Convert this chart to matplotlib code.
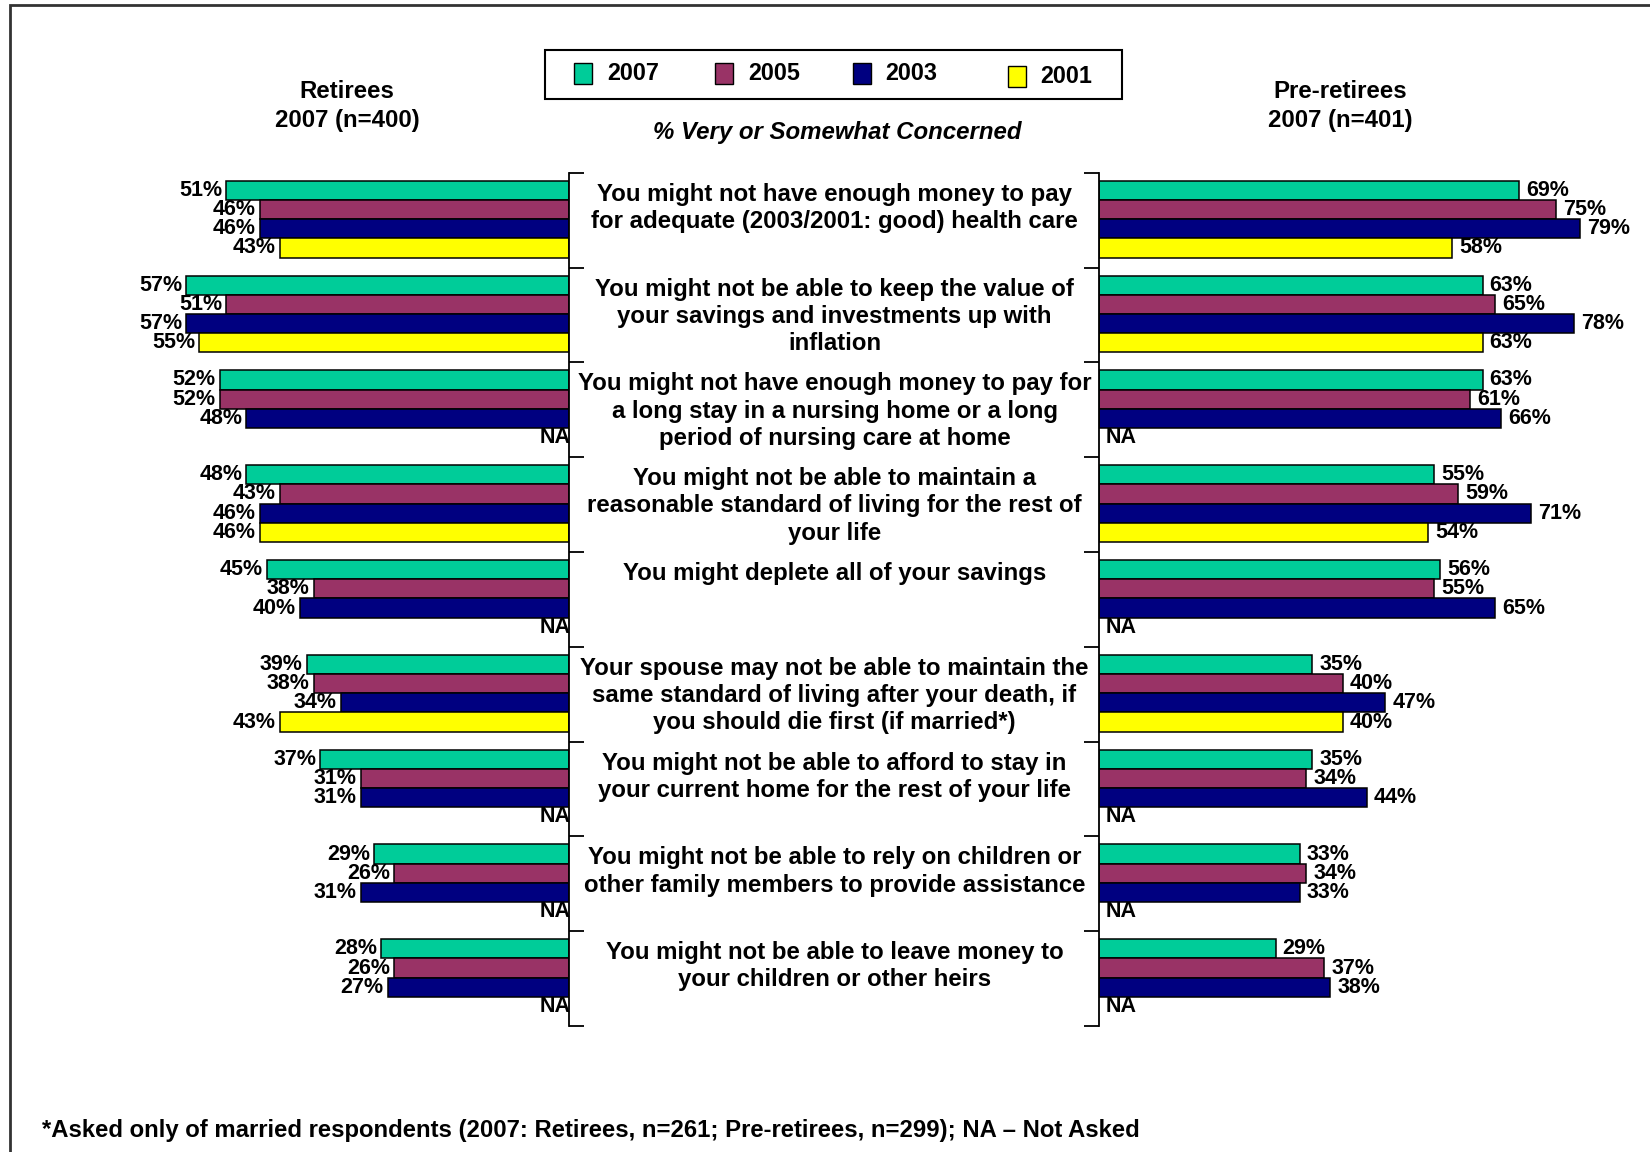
import matplotlib
matplotlib.use('Agg')
import matplotlib.pyplot as plt
import matplotlib.transforms as mtransforms
from matplotlib.patches import Rectangle
import numpy as np

plt.rcParams['font.family'] = ['Liberation Sans', 'DejaVu Sans']
plt.rcParams['font.weight'] = 'bold'

# Survey items (one per row, top to bottom)
items = [
    'You might not have enough money to pay\nfor adequate (2003/2001: good) health care',
    'You might not be able to keep the value of\nyour savings and investments up with\ninflation',
    'You might not have enough money to pay for\na long stay in a nursing home or a long\nperiod of nursing care at home',
    'You might not be able to maintain a\nreasonable standard of living for the rest of\nyour life',
    'You might deplete all of your savings',
    'Your spouse may not be able to maintain the\nsame standard of living after your death, if\nyou should die first (if married*)',
    'You might not be able to afford to stay in\nyour current home for the rest of your life',
    'You might not be able to rely on children or\nother family members to provide assistance',
    'You might not be able to leave money to\nyour children or other heirs',
]
years = ['2007', '2005', '2003', '2001']
colors = ['#00CC99', '#993366', '#000080', '#FFFF00']

NA = np.nan
# % very or somewhat concerned, columns = 2007, 2005, 2003, 2001
retirees = np.array([
    [51, 46, 46, 43],
    [57, 51, 57, 55],
    [52, 52, 48, NA],
    [48, 43, 46, 46],
    [45, 38, 40, NA],
    [39, 38, 34, 43],
    [37, 31, 31, NA],
    [29, 26, 31, NA],
    [28, 26, 27, NA],
])
pre_retirees = np.array([
    [69, 75, 79, 58],
    [63, 65, 78, 63],
    [63, 61, 66, NA],
    [55, 59, 71, 54],
    [56, 55, 65, NA],
    [35, 40, 47, 40],
    [35, 34, 44, NA],
    [33, 34, 33, NA],
    [29, 37, 38, NA],
])

W, H = 1650, 1152
fig = plt.figure(figsize=(W / 100, H / 100), dpi=100)


def rect(x0, y0, x1, y1):
    # pixel box (top-left origin) -> figure fraction rect
    return [x0 / W, 1 - y1 / H, (x1 - x0) / W, (y1 - y0) / H]


# outer frame (runs off the right and bottom edges)
fig.patches.append(Rectangle((10 / W, -0.1), 1.2, 1 - 5 / H + 0.1, transform=fig.transFigure,
                             fill=False, edgecolor='#333333', linewidth=2))

top, bot = 172.7, 1026
axL = fig.add_axes(rect(150, top, 569, bot))
axR = fig.add_axes(rect(1099, top, 1620, bot))
axL.set_xlim(419 / 6.72, 0)
axR.set_xlim(0, 521 / 6.09)

n = len(items)
ypos = np.arange(n)
bh = 0.2025
for ax in (axL, axR):
    ax.set_ylim(n - 0.5, -0.5)
    ax.set_facecolor('none')
    for s in ax.spines.values():
        s.set_visible(False)
    ax.set_xticks([])
    ax.set_yticks(np.arange(n + 1) - 0.5)
    ax.set_yticklabels([])
    ax.tick_params(axis='y', direction='out', length=11, width=1.3)

axL.spines['right'].set_visible(True)
axL.spines['right'].set_linewidth(1.3)
axL.yaxis.tick_right()
axR.spines['left'].set_visible(True)
axR.spines['left'].set_linewidth(1.3)

lab_fs = 15.5
big_fs = 17.3
for ax, data, side in ((axL, retirees, -1), (axR, pre_retirees, 1)):
    for j in range(4):
        yy = ypos + (j - 1.5) * bh - 0.01
        vals = data[:, j]
        ok = ~np.isnan(vals)
        ax.barh(yy[ok], vals[ok], height=bh, color=colors[j], edgecolor='black', linewidth=1.1)
        for y, v in zip(yy, vals):
            if np.isnan(v):
                off = 2 if side < 0 else 7
                ax.annotate('NA', (0, y), xytext=(off, 0), textcoords='offset pixels',
                            ha='right' if side < 0 else 'left', va='center',
                            fontsize=lab_fs, fontweight='bold')
            else:
                off = -4 if side < 0 else 7
                ax.annotate('%d%%' % v, (v, y), xytext=(off, 0), textcoords='offset pixels',
                            ha='right' if side < 0 else 'left', va='center',
                            fontsize=lab_fs, fontweight='bold')

# item text in the middle column
trans = mtransforms.blended_transform_factory(fig.transFigure, axL.transData)
line_step = 27.2 / ((bot - top) / n)
first = 21.5 / ((bot - top) / n)
for i, txt in enumerate(items):
    for k, line in enumerate(txt.split('\n')):
        fig.text(834.5 / W, i - 0.5 + first + k * line_step, line, transform=trans,
                 ha='center', va='center', fontsize=big_fs, fontweight='bold')

# column headers
fig.text(347 / W, 1 - 91.5 / H, 'Retirees', ha='center', va='center', fontsize=big_fs, fontweight='bold')
fig.text(347 / W, 1 - 121 / H, '2007 (n=400)', ha='center', va='center', fontsize=big_fs, fontweight='bold')
fig.text(1340 / W, 1 - 91.5 / H, 'Pre-retirees', ha='center', va='center', fontsize=big_fs, fontweight='bold')
fig.text(1340 / W, 1 - 121 / H, '2007 (n=401)', ha='center', va='center', fontsize=big_fs, fontweight='bold')
fig.text(837.6 / W, 1 - 132.5 / H, '% Very or Somewhat Concerned', ha='center', va='center',
         fontsize=big_fs, fontweight='bold', style='italic')

# legend box
fig.patches.append(Rectangle((545 / W, 1 - 99 / H), 577 / W, 49.5 / H, transform=fig.transFigure,
                             fill=False, edgecolor='black', linewidth=1.5))
sq_x = [573.5, 714.5, 853, 1008]
lab_x = [607, 748, 885, 1040]
lab_y = [73.5, 73.5, 73.5, 76.5]
for yr, c, sx, lx, ly in zip(years, colors, sq_x, lab_x, lab_y):
    fig.patches.append(Rectangle((sx / W, 1 - (ly + 10) / H), 18 / W, 20 / H, transform=fig.transFigure,
                                 facecolor=c, edgecolor='black', linewidth=1))
    fig.text(lx / W, 1 - ly / H, yr, ha='left', va='center', fontsize=16.8, fontweight='bold')

# footnote
fig.text(42 / W, 1 - 1131 / H,
         '*Asked only of married respondents (2007: Retirees, n=261; Pre-retirees, n=299); NA \u2013 Not Asked',
         ha='left', va='center', fontsize=17.2, fontweight='bold')

plt.savefig('out.png', dpi=100)
